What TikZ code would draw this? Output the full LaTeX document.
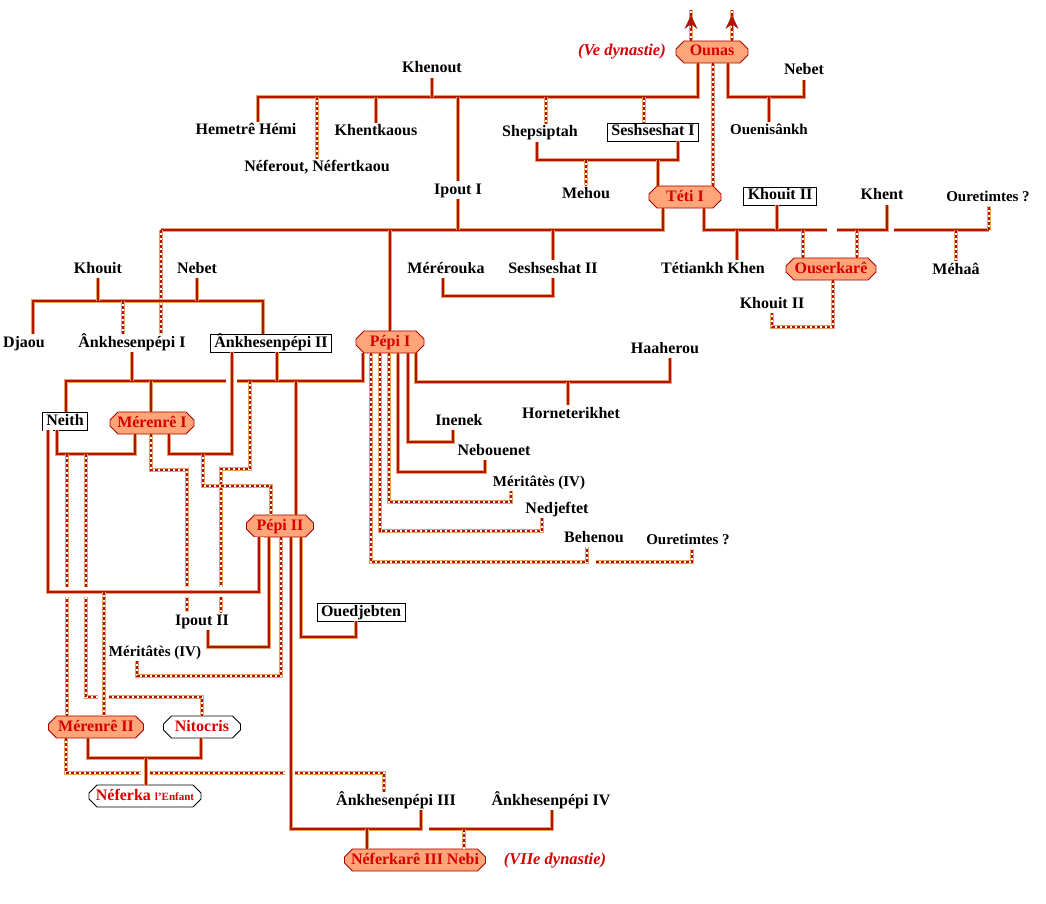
\documentclass[tikz,border=0pt]{standalone}
\usepackage{fontspec}
\setmainfont{Liberation Serif}
\usetikzlibrary{shapes.misc,arrows.meta}
\definecolor{ln}{RGB}{175,20,5}
\definecolor{lnout}{RGB}{232,160,100}
\definecolor{roy}{RGB}{255,165,120}
\definecolor{roytxt}{RGB}{215,0,0}
\definecolor{roybord}{RGB}{170,0,0}

\begin{document}
\begin{tikzpicture}[x=1pt,y=-1pt,
    nm/.style={font=\bfseries\fontsize{16}{18}\selectfont,inner sep=1.5pt,text height=11pt,text depth=3pt},
    petit/.style={nm,font=\bfseries\fontsize{15}{17}\selectfont},
    roi/.style={nm,chamfered rectangle,chamfered rectangle xsep=5pt,draw=roybord,fill=roy,text=roytxt,line width=0.8pt,minimum height=19pt,inner ysep=1pt},
    reine/.style={roi,fill=white,draw=black},
    cadre/.style={nm,rectangle,draw=black,fill=white,line width=0.8pt,inner xsep=4pt,inner ysep=2pt},
    dyn/.style={nm,font=\bfseries\itshape\fontsize{16.5}{18}\selectfont,text=roytxt},
    lnk/.style={draw=lnout,line width=3.2pt,postaction={draw=ln,line width=1.6pt}},
    lnd/.style={draw=lnout,line width=3.2pt,postaction={draw=white,line width=1.6pt},postaction={draw=ln,line width=1.6pt,dash pattern=on 3pt off 2pt}},
    halo/.style={preaction={draw=white,line width=10pt}},
    fleche/.style={draw=ln,fill=ln,line width=0.6pt,-{Stealth[length=14pt,width=13pt,inset=5pt]}},
]
\fill[white] (0,0) rectangle (1046,904);
\useasboundingbox (0,0) rectangle (1046,904);

% Ve dynastie
\node[roi,minimum width=72pt] (ounas) at (712,52) {Ounas};
\node[dyn] (vdyn) at (622,52) {(Ve dynastie)};
\node[nm] (khenout) at (432,69) {Khenout};
\node[nm] (nebetA) at (804,71) {Nebet};
\node[petit] (ouenis) at (769,131) {Ouenisânkh};
\node[nm] (hemetre) at (246,131) {Hemetrê Hémi};
\node[nm] (khentk) at (376,132) {Khentkaous};
\node[nm] (neferout) at (317,168) {Néferout, Néfertkaou};
\node[nm] (shepsi) at (540,133) {Shepsiptah};
\node[cadre] (seshI) at (653,132) {Seshseshat I};
\node[nm] (mehou) at (586,194) {Mehou};

% VIe dynastie
\node[roi,minimum width=72pt] (teti) at (685,197) {Téti I};
\node[nm] (ipoutI) at (458,190) {Ipout I};
\node[cadre] (khouitII) at (780,196) {Khouit II};
\node[nm] (khent) at (882,196) {Khent};
\node[petit] (ouretA) at (988,197) {Ouretimtes ?};
\node[nm] (mererouka) at (446,269) {Mérérouka};
\node[nm] (seshII) at (553,269) {Seshseshat II};
\node[nm] (tetiankh) at (713,269) {Tétiankh Khen};
\node[roi,minimum width=90pt] (ouserkare) at (831,269) {Ouserkarê};
\node[nm] (mehaa) at (956,270) {Méhaâ};
\node[nm] (khouitB) at (772,304) {Khouit II};
\node[nm] (khouit) at (98,269) {Khouit};
\node[nm] (nebetB) at (197,269) {Nebet};
\node[nm] (djaou) at (24,343) {Djaou};
\node[nm] (ankhI) at (132,343) {Ânkhesenpépi I};
\node[cadre] (ankhII) at (271,343) {Ânkhesenpépi II};
\node[roi,minimum width=68pt] (pepiI) at (390,342) {Pépi I};
\node[nm] (haaherou) at (665,349) {Haaherou};
\node[nm] (hornet) at (571,414) {Horneterikhet};
\node[nm] (inenek) at (459,421) {Inenek};
\node[nm] (nebouenet) at (494,451) {Nebouenet};
\node[petit] (meritA) at (539,482) {Méritâtès (IV)};
\node[nm] (nedjef) at (557,509) {Nedjeftet};
\node[nm] (behenou) at (594,538) {Behenou};
\node[petit] (ouretB) at (688,540) {Ouretimtes ?};
\node[cadre] (neith) at (65,421) {Neith};
\node[roi,minimum width=84pt] (merenI) at (152,423) {Mérenrê I};
\node[roi,minimum width=67pt] (pepiII) at (280,526) {Pépi II};
\node[cadre] (ouedj) at (361,612) {Ouedjebten};
\node[nm] (ipoutII) at (202,621) {Ipout II};
\node[petit] (meritB) at (155,652) {Méritâtès (IV)};
\node[roi,minimum width=95pt] (merenII) at (96,727) {Mérenrê II};
\node[reine,minimum width=77pt] (nitocris) at (202,727) {Nitocris};
\node[reine,minimum width=112pt] (neferka) at (145,796) {Néferka {\fontsize{11}{12}\selectfont l'Enfant}};
\node[nm] (ankhIII) at (396,801) {Ânkhesenpépi III};
\node[nm] (ankhIV) at (551,801) {Ânkhesenpépi IV};
\node[roi,minimum width=136pt] (neferkare) at (415,860) {Néferkarê III Nebi};
\node[dyn] (viidyn) at (555,860) {(VIIe dynastie)};

% Ounas
\coordinate (a1) at (691,10); \coordinate (a2) at (732,10);
\coordinate (a1t) at (691,15); \coordinate (a2t) at (732,15);
\draw[lnd] (a1 |- ounas.north) -- (a1);
\draw[lnd] (a2 |- ounas.north) -- (a2);
\draw[fleche] ([yshift=-14pt]a1t) -- (a1t);
\draw[fleche] ([yshift=-14pt]a2t) -- (a2t);

\coordinate (o1) at (698,97); \coordinate (o2) at (258,97);
\draw[lnk] (o1 |- ounas.south) -- (o1) -- (o2) -- (o2 |- hemetre.north);
\draw[lnk] (khenout) -- (khenout |- o1);
\draw[lnd] (neferout |- o1) -- (neferout);
\draw[lnk] (khentk |- o1) -- (khentk);
\draw[lnk] (ipoutI |- o1) -- (ipoutI);
\coordinate (o3) at (546,97); \coordinate (o4) at (644,97);
\draw[lnd] (o3) -- (o3 |- shepsi.north);
\draw[lnd] (o4) -- (o4 |- seshI.north);

\coordinate (o5) at (728,97); \coordinate (o6) at (804,97);
\draw[lnk] (o5 |- ounas.south) -- (o5) -- (o6) -- (nebetA);
\draw[lnk] (ouenis |- o5) -- (ouenis);
\coordinate (o7) at (713,100);
\draw[lnd] (o7 |- ounas.south) -- (o7 |- teti.north);

% Shepsiptah et Seshseshat I
\coordinate (s1) at (537,160); \coordinate (s2) at (678,160); \coordinate (s3) at (658,160);
\draw[lnk] (s1 |- shepsi.south) -- (s1) -- (s2) -- (s2 |- seshI.south);
\draw[lnd] (mehou |- s1) -- (mehou);
\draw[lnk] (s3) -- (s3 |- teti.north);

% Teti I
\coordinate (t1) at (663,230); \coordinate (t2) at (161,230);
\draw[lnk] (t1 |- teti.south) -- (t1) -- (t2);
\draw[lnk] (ipoutI) -- (ipoutI |- t1);
\draw[lnk] (pepiI |- t1) -- (pepiI);
\draw[lnk] (seshII |- t1) -- (seshII);
\draw[lnd] (t2) -- (t2 |- ankhI.north);
\coordinate (m1) at (443,296); \coordinate (m2) at (553,296);
\draw[lnk] (m1 |- mererouka.south) -- (m1) -- (m2) -- (seshII);

\coordinate (t3) at (704,230); \coordinate (t4) at (827,230);
\draw[lnk] (t3 |- teti.south) -- (t3) -- (t4);
\coordinate (t5) at (737,230); \draw[lnk] (t5) -- (t5 |- tetiankh.north);
\coordinate (t6) at (777,230); \draw[lnk] (t6) -- (t6 |- khouitII.south);
\coordinate (t7) at (803,230); \draw[lnd] (t7) -- (t7 |- ouserkare.north);
\coordinate (t8) at (837,230); \coordinate (t9) at (887,230);
\draw[lnk] (t8) -- (t9) -- (t9 |- khent.south);
\coordinate (t10) at (857,230); \draw[lnd] (t10) -- (t10 |- ouserkare.north);
\coordinate (t11) at (894,230); \coordinate (t12) at (989,230);
\draw[lnk] (t11) -- (t12);
\draw[lnd] (t12) -- (t12 |- ouretA.south);
\coordinate (t13) at (956,230); \draw[lnd] (t13) -- (mehaa);
\coordinate (u1) at (833,327); \coordinate (u2) at (772,327);
\draw[lnd] (u1 |- ouserkare.south) -- (u1) -- (u2) -- (khouitB);

% Khouit et Nebet
\coordinate (k1) at (33,301); \coordinate (k2) at (263,301); \coordinate (k3) at (123,301);
\draw[lnk] (k1 |- djaou.north) -- (k1) -- (k2) -- (k2 |- ankhII.north);
\draw[lnk] (khouit) -- (khouit |- k1);
\draw[lnk] (nebetB) -- (nebetB |- k1);
\draw[lnd] (k3) -- (k3 |- ankhI.north);

% Pepi I
\coordinate (p1) at (66,381); \coordinate (p2) at (226,381); \coordinate (p3) at (151,381);
\draw[lnk] (p1 |- neith.north) -- (p1) -- (p2);
\draw[lnk] (ankhI) -- (ankhI |- p1);
\draw[lnk] (p3) -- (p3 |- merenI.north);
\coordinate (p4) at (237,381); \coordinate (p5) at (363,381);
\coordinate (p6) at (277,381); \coordinate (p7) at (296,381);
\draw[lnk] (p4) -- (p5) -- (p5 |- pepiI.south);
\draw[lnk] (p6 |- ankhII.south) -- (p6);
\draw[lnk] (p7) -- (p7 |- pepiII.north);
\coordinate (p8) at (250,381); \coordinate (p9) at (250,469); \coordinate (p10) at (221,469);
\draw[lnd] (p8) -- (p9) -- (p10) -- (p10 |- ipoutII.north);

\coordinate (q1) at (416,382); \coordinate (q2) at (670,382); \coordinate (q3) at (568,382);
\draw[lnk] (q1 |- pepiI.south) -- (q1) -- (q2) -- (q2 |- haaherou.south);
\draw[lnk] (q3) -- (q3 |- hornet.north);
\coordinate (q4) at (408,442); \coordinate (q5) at (453,442);
\draw[lnk] (q4 |- pepiI.south) -- (q4) -- (q5) -- (q5 |- inenek.south);
\coordinate (q6) at (398,472); \coordinate (q7) at (485,472);
\draw[lnk] (q6 |- pepiI.south) -- (q6) -- (q7) -- (q7 |- nebouenet.south);
\coordinate (q8) at (389,502); \coordinate (q9) at (511,502);
\draw[lnd] (q8 |- pepiI.south) -- (q8) -- (q9) -- (q9 |- meritA.south);
\coordinate (q10) at (380,531); \coordinate (q11) at (542,531);
\draw[lnd] (q10 |- pepiI.south) -- (q10) -- (q11) -- (q11 |- nedjef.south);
\coordinate (q12) at (371,562); \coordinate (q13) at (587,562);
\draw[lnd] (q12 |- pepiI.south) -- (q12) -- (q13) -- (q13 |- behenou.south);
\coordinate (q14) at (596,562); \coordinate (q15) at (692,562);
\draw[lnd] (q14) -- (q15) -- (q15 |- ouretB.south);

% Merenre I
\coordinate (r1) at (232,454); \coordinate (r2) at (169,454);
\draw[lnk] (r1 |- ankhII.south) -- (r1) -- (r2) -- (r2 |- merenI.south);
\coordinate (r3) at (203,454); \coordinate (r4) at (203,486); \coordinate (r5) at (271,486);
\draw[lnd] (r3) -- (r4) -- (r5) -- (r5 |- pepiII.north);
\coordinate (n1) at (57,454); \coordinate (n2) at (135,454);
\draw[lnk] (n1 |- neith.south) -- (n1) -- (n2) -- (n2 |- merenI.south);
\coordinate (n3) at (67,454); \draw[lnd] (n3) -- (n3 |- merenII.north);
\coordinate (n4) at (86,454); \coordinate (n5) at (86,697); \coordinate (n6) at (98,697);
\draw[lnd] (n4) -- (n5) -- (n6);
\coordinate (n7) at (109,697); \coordinate (n8) at (202,697);
\draw[lnd] (n7) -- (n8) -- (n8 |- nitocris.north);
\coordinate (w1) at (151,470); \coordinate (w2) at (187,470);
\draw[lnd] (w1 |- merenI.south) -- (w1) -- (w2) -- (w2 |- ipoutII.north);

% Pepi II
\coordinate (g1) at (48,592); \coordinate (g2) at (259,592); \coordinate (g3) at (104,592);
\draw[lnk,halo] (g1 |- neith.south) -- (g1) -- (g2) -- (g2 |- pepiII.south);
\draw[lnd] (g3) -- (g3 |- merenII.north);
\coordinate (h1) at (269,647); \coordinate (h2) at (208,647);
\draw[lnk] (h1 |- pepiII.south) -- (h1) -- (h2) -- (h2 |- ipoutII.south);
\coordinate (h3) at (281,676); \coordinate (h4) at (137,676);
\draw[lnd] (h3 |- pepiII.south) -- (h3) -- (h4) -- (h4 |- meritB.south);
\coordinate (h5) at (301,637); \coordinate (h6) at (356,637);
\draw[lnk] (h5 |- pepiII.south) -- (h5) -- (h6) -- (h6 |- ouedj.south);
\coordinate (h7) at (291,829); \coordinate (h8) at (421,829); \coordinate (h9) at (367,829);
\draw[lnk] (h7 |- pepiII.south) -- (h7) -- (h8) -- (h8 |- ankhIII.south);
\draw[lnk] (h9) -- (h9 |- neferkare.north);
\coordinate (h10) at (429,829); \coordinate (h11) at (552,829); \coordinate (h12) at (464,829);
\draw[lnk] (h10) -- (h11) -- (h11 |- ankhIV.south);
\draw[lnd] (h12) -- (h12 |- neferkare.north);

% Merenre II et Nitocris
\coordinate (e1) at (88,758); \coordinate (e2) at (201,758); \coordinate (e3) at (146,758);
\draw[lnk] (e1 |- merenII.south) -- (e1) -- (e2) -- (e2 |- nitocris.south);
\draw[lnk] (e3) -- (e3 |- neferka.north);
\coordinate (f1) at (66,773); \coordinate (f2) at (141,773);
\draw[lnd] (f1 |- merenII.south) -- (f1) -- (f2);
\coordinate (f3) at (150,773); \coordinate (f4) at (285,773);
\draw[lnd] (f3) -- (f4);
\coordinate (f5) at (295,773); \coordinate (f6) at (384,773);
\draw[lnd] (f5) -- (f6) -- (f6 |- ankhIII.north);
\end{tikzpicture}
\end{document}
